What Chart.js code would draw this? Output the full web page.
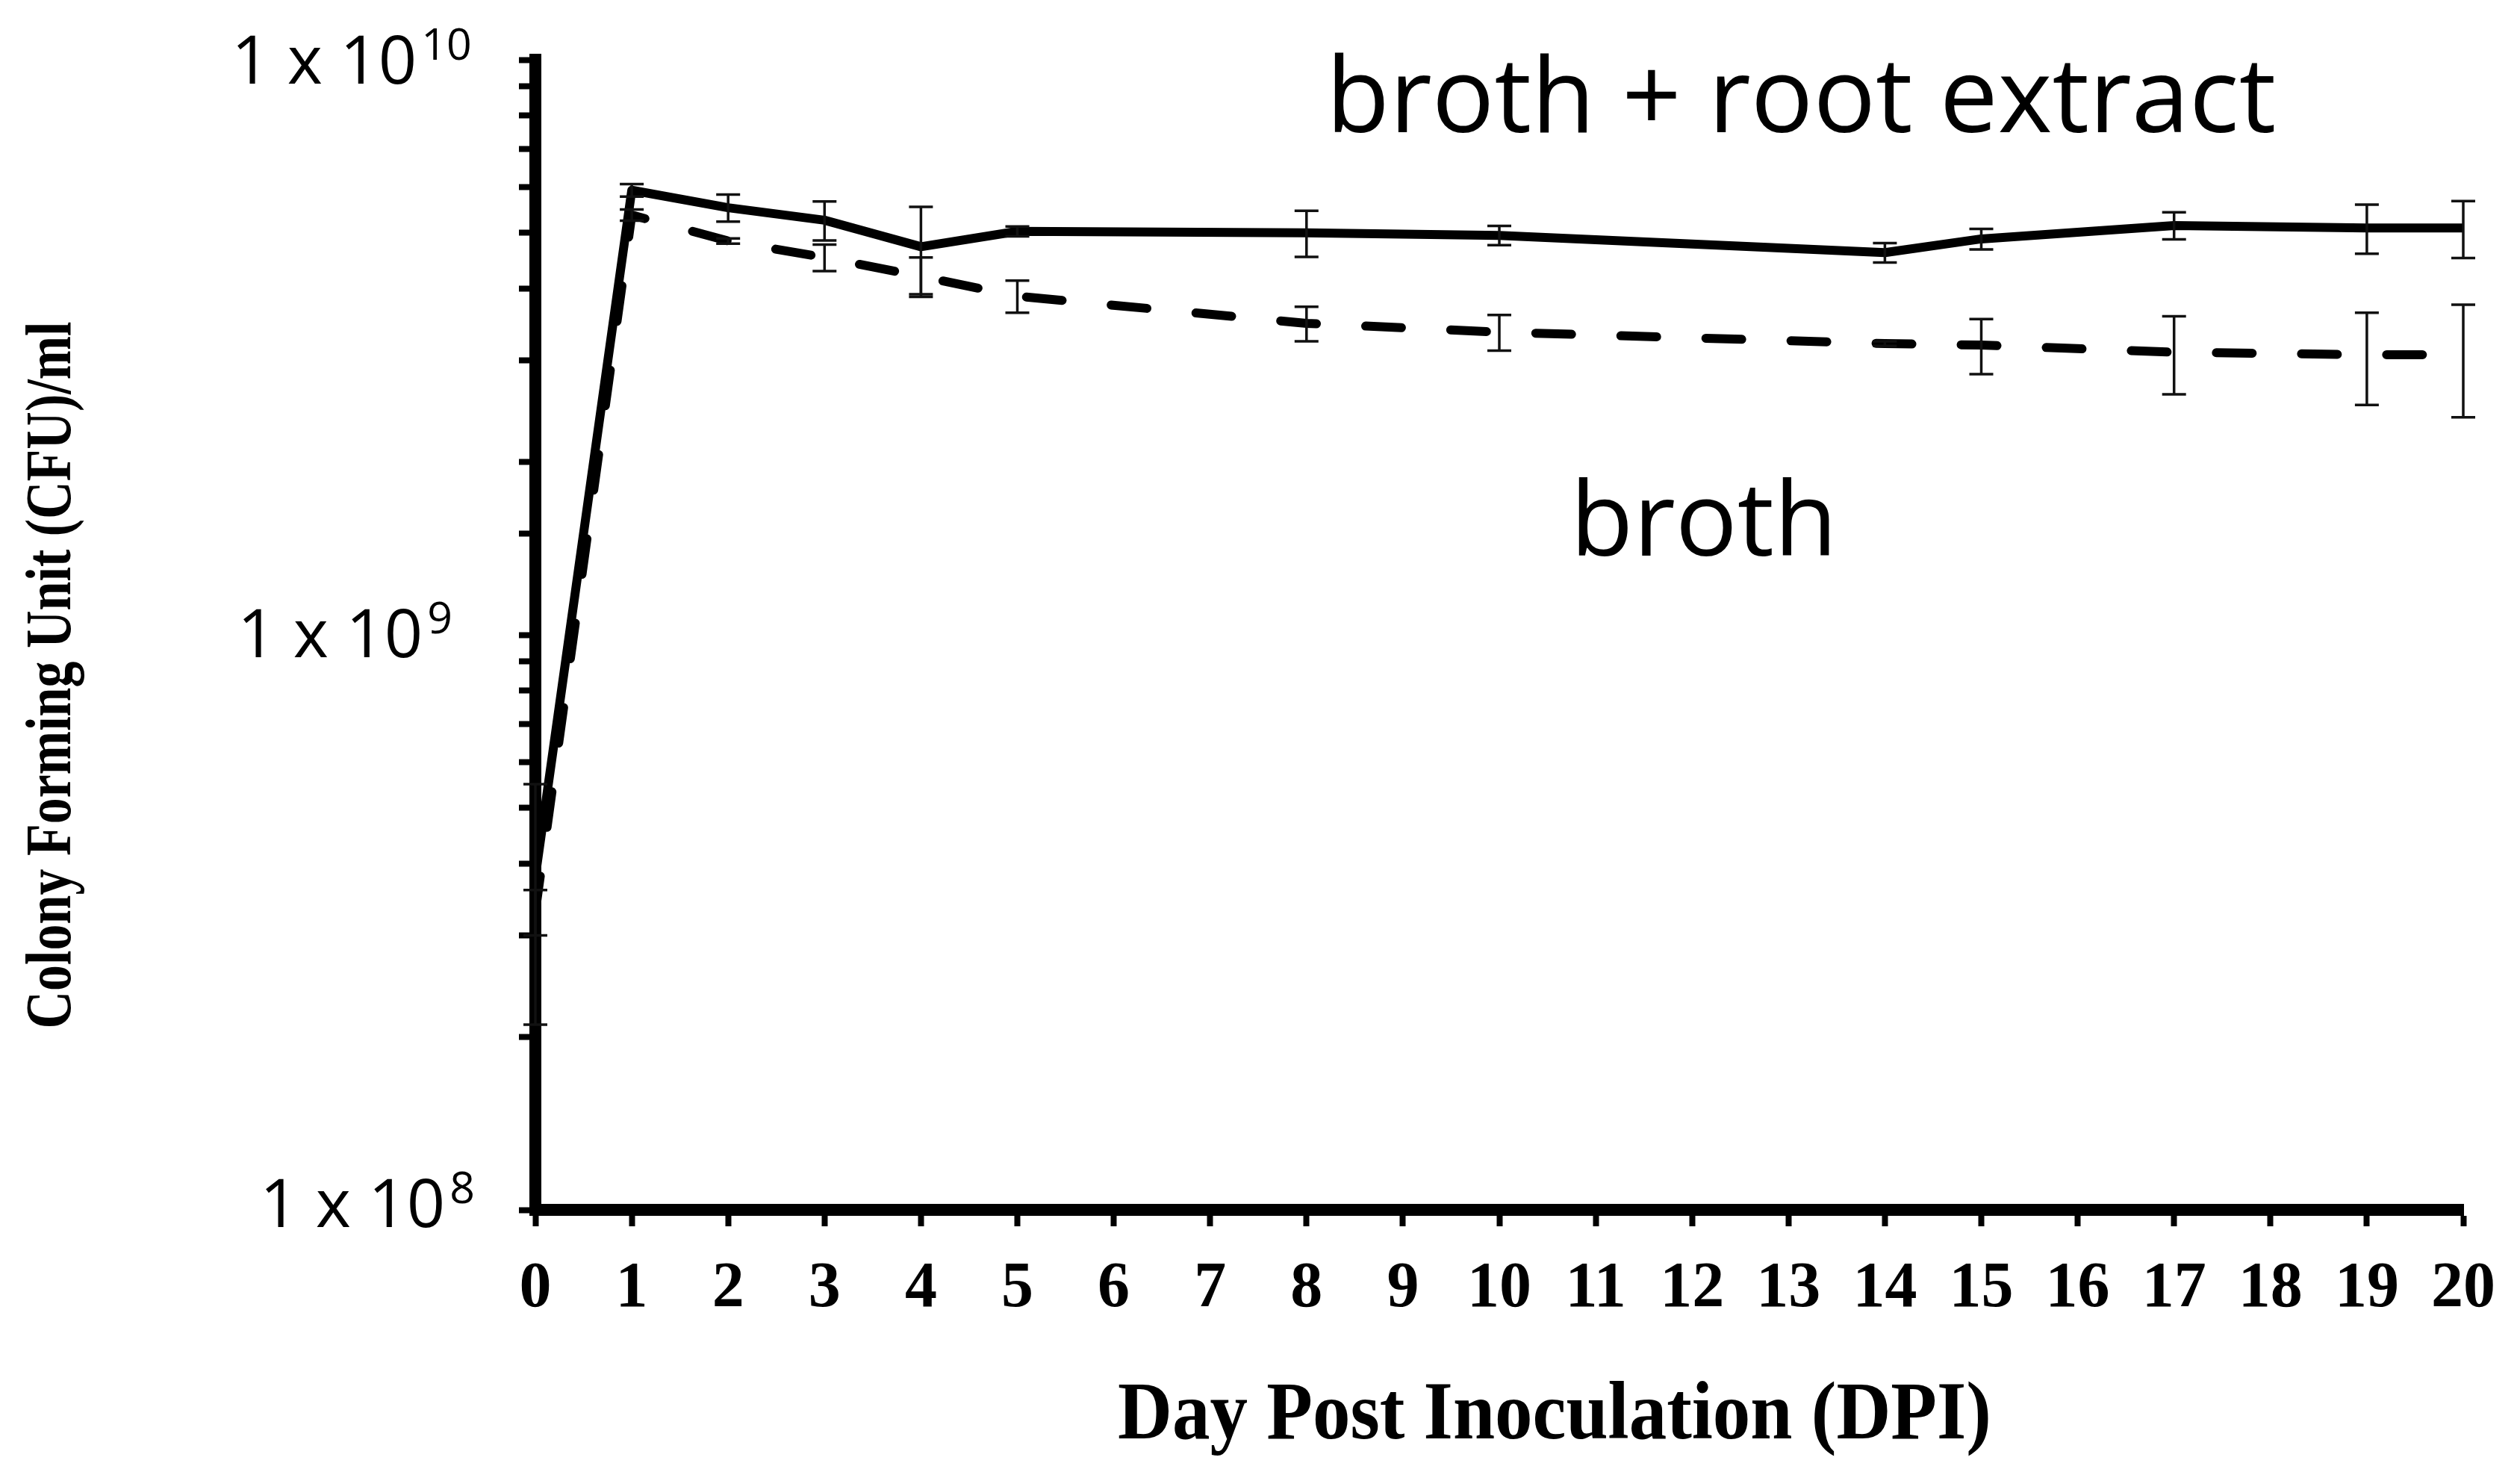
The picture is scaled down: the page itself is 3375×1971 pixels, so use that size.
<!DOCTYPE html>
<html>
<head>
<meta charset="utf-8">
<title>CFU over days</title>
<script src="https://cdn.jsdelivr.net/npm/chart.js@4.4.1/dist/chart.umd.min.js"></script>
<style>
    html, body { margin: 0; padding: 0; background: #fff; }
    #wrap { width: 3375px; height: 1971px; position: relative; }
</style>
</head>
<body>
<div id="wrap"><canvas id="cfuChart"></canvas></div>
<script>
// days that were sampled
const days = [0, 1, 2, 3, 4, 5, 8, 10, 14, 15, 17, 19, 20];

// broth + root extract (solid line)
const rootExtract    = [3.8e8, 5.93e9, 5.53e9, 5.26e9, 4.73e9, 5.03e9, 5.00e9, 4.95e9, 4.62e9, 4.88e9, 5.15e9, 5.10e9, 5.10e9];
const rootExtractErr = [1.7e8, 0.15e9, 0.30e9, 0.41e9, 0.82e9, 0.10e9, 0.46e9, 0.19e9, 0.18e9, 0.20e9, 0.28e9, 0.50e9, 0.58e9];

// broth only (dashed line)
const broth    = [3.3e8, 5.37e9, 4.84e9, 4.53e9, 4.20e9, 3.88e9, 3.48e9, 3.36e9, 3.21e9, 3.19e9, 3.10e9, 3.07e9, 3.07e9];
const brothErr = [0.3e8, 0.12e9, 0.05e9, 0.24e9, 0.33e9, 0.25e9, 0.24e9, 0.24e9, 0.03e9, 0.35e9, 0.48e9, 0.56e9, 0.68e9];

// labelled y ticks and their exponents
const yLabelValues = [1e8, 1e9, 1e10];
const yLabelExp    = ['8', '9', '10'];

const xTitle = 'Day Post Inoculation (DPI)';
const yTitle = 'Colony Forming Unit (CFU)/ml';

const toPoints = (vals) => vals.map((v, i) => ({ x: days[i], y: v }));

// error bars, drawn through the chart scales
const errorBars = {
    id: 'errorBars',
    afterDatasetsDraw(chart) {
        const ctx = chart.ctx;
        const xs = chart.scales.x;
        const ys = chart.scales.y;
        ctx.save();
        ctx.strokeStyle = '#111';
        ctx.lineWidth = 3.5;
        chart.data.datasets.forEach(ds => {
            ds.data.forEach((p, i) => {
                const e = ds.errors[i];
                if (!e) return;
                const x = xs.getPixelForValue(p.x);
                const yTop = ys.getPixelForValue(p.y + e);
                const yBot = ys.getPixelForValue(p.y - e);
                ctx.beginPath();
                ctx.moveTo(x, yTop); ctx.lineTo(x, yBot);
                ctx.moveTo(x - 16, yTop); ctx.lineTo(x + 16, yTop);
                ctx.moveTo(x - 16, yBot); ctx.lineTo(x + 16, yBot);
                ctx.stroke();
            });
        });
        ctx.restore();
    }
};

// "1 x 10^n" labels, the axis titles and the two series names
const labelsPlugin = {
    id: 'labels',
    afterDraw(chart) {
        const ctx = chart.ctx;
        const ys = chart.scales.y;
        const area = chart.chartArea;
        ctx.save();
        ctx.fillStyle = '#000';
        ctx.textBaseline = 'alphabetic';
        ctx.textAlign = 'left';

        // y tick labels sit a little below their tick
        const drop = [23, 30, 32];
        const left = [348, 318, 310];
        yLabelValues.forEach((v, i) => {
            const y = ys.getPixelForValue(v) + drop[i];
            ctx.font = '90px "Open Sans"';
            ctx.fillText('1 x 10', left[i], y);
            const w = ctx.measureText('1 x 10').width;
            ctx.font = '59px "Open Sans"';
            ctx.fillText(yLabelExp[i], left[i] + w + 6, y - 32);
        });

        // axis titles, slightly stretched like the original
        ctx.textAlign = 'center';
        ctx.textBaseline = 'middle';
        ctx.font = 'bold 70px "Liberation Serif"';
        ctx.save();
        ctx.translate(71, 904);
        ctx.rotate(-Math.PI / 2);
        ctx.scale(1, 1.25);
        ctx.fillText(yTitle, 0, 0);
        ctx.restore();

        ctx.font = 'bold 101px "Liberation Serif"';
        ctx.save();
        ctx.translate((area.left + area.right) / 2 + 74, 1898);
        ctx.scale(1, 1.08);
        ctx.fillText(xTitle, 0, 0);
        ctx.restore();

        // series names
        ctx.textAlign = 'left';
        ctx.textBaseline = 'alphabetic';
        ctx.font = '139px "Open Sans"';
        ctx.fillText('broth + root extract', 1776, 177);
        ctx.font = '138px "Open Sans"';
        ctx.fillText('broth', 2103, 744);
        ctx.restore();
    }
};

document.addEventListener('DOMContentLoaded', () => {
    const ctx = document.getElementById('cfuChart');
    new Chart(ctx, {
        type: 'line',
        data: {
            datasets: [
                {
                    label: 'broth + root extract',
                    data: toPoints(rootExtract),
                    errors: rootExtractErr,
                    borderColor: '#000',
                    borderWidth: 12,
                    pointRadius: 0,
                    tension: 0,
                    borderJoinStyle: 'round'
                },
                {
                    label: 'broth',
                    data: toPoints(broth),
                    errors: brothErr,
                    borderColor: '#000',
                    borderWidth: 12,
                    borderDash: [48, 66],
                    borderCapStyle: 'round',
                    pointRadius: 0,
                    tension: 0
                }
            ]
        },
        options: {
            responsive: true,
            maintainAspectRatio: false,
            animation: false,
            layout: { padding: { top: 80, right: 71, left: 0, bottom: 0 } },
            plugins: {
                legend: { display: false },
                tooltip: { enabled: false }
            },
            scales: {
                x: {
                    type: 'linear',
                    min: 0,
                    max: 20,
                    border: { display: true, color: '#000', width: 16 },
                    grid: { display: true, drawOnChartArea: false, drawTicks: true, tickLength: 22, tickWidth: 8, tickColor: '#000' },
                    ticks: {
                        stepSize: 1,
                        autoSkip: false,
                        maxRotation: 0,
                        padding: 33,
                        color: '#000',
                        font: { family: '"Liberation Serif"', weight: 'bold', size: 86 }
                    },
                    afterFit: s => { s.height = 351; }
                },
                y: {
                    type: 'logarithmic',
                    min: 1e8,
                    max: 1e10,
                    border: { display: true, color: '#000', width: 16 },
                    grid: { display: true, drawOnChartArea: false, drawTicks: true, tickLength: 22, tickWidth: 8, tickColor: '#000' },
                    ticks: { callback: () => '' },
                    afterFit: s => { s.width = 717; }
                }
            }
        },
        plugins: [errorBars, labelsPlugin]
    });
});
</script>
</body>
</html>
